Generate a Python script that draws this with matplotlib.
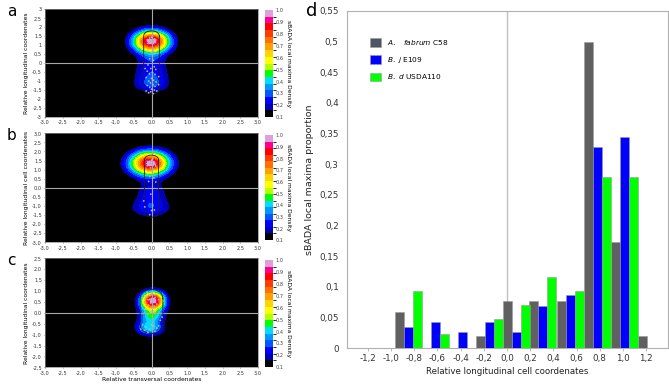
import numpy as np
import matplotlib
matplotlib.use('Agg')
import matplotlib.pyplot as plt
from matplotlib.colors import ListedColormap, BoundaryNorm
from matplotlib.ticker import FuncFormatter, FixedLocator
import matplotlib.cm as cm
from matplotlib.patches import Patch

# ---------------- bar chart (panel d) data ----------------
bin_centers = [-0.85, -0.62, -0.38, -0.15, 0.08, 0.31, 0.55, 0.78, 1.01, 1.25]
fabrum = [0.058, 0.0, 0.0, 0.019, 0.077, 0.077, 0.077, 0.500, 0.173, 0.019]
japonicum = [0.034, 0.043, 0.026, 0.043, 0.026, 0.069, 0.086, 0.328, 0.345, 0.0]
diazo = [0.093, 0.023, 0.0, 0.047, 0.070, 0.116, 0.093, 0.279, 0.279, 0.0]
bar_xticks = [-1.2, -1.0, -0.8, -0.6, -0.4, -0.2, 0.0, 0.2, 0.4, 0.6, 0.8, 1.0, 1.2]
bar_yticks = [0, 0.05, 0.1, 0.15, 0.2, 0.25, 0.3, 0.35, 0.4, 0.45, 0.5, 0.55]
legend_labels = [r'$\mathit{A.\ \ \ fabrum}$ C58', r'$\mathit{B.\ j}$ E109', r'$\mathit{B.\ d}$ USDA110']

# ---------------- density panels (a, b, c) ----------------
# gaussian blobs describing the density shapes: (cx, cy, sx, sy, weight)
comps_a = [(0.0, 1.25, 0.15, 0.16, 0.12), (0.0, 1.2, 0.40, 0.48, 0.88),
           (0.0, 0.2, 0.30, 0.30, 0.10),
           (0.0, -0.4, 0.42, 0.42, 0.22), (0.0, -1.2, 0.42, 0.38, 0.25)]
comps_b = [(0.0, 1.35, 0.15, 0.16, 0.15), (-0.05, 1.35, 0.44, 0.52, 0.85),
           (0.0, -0.2, 0.34, 0.40, 0.20), (-0.02, -1.1, 0.50, 0.45, 0.25)]
comps_c = [(0.05, 0.6, 0.20, 0.25, 0.50), (0.02, 0.45, 0.30, 0.40, 0.50),
           (0.0, -0.15, 0.25, 0.20, 0.22), (-0.05, -0.68, 0.30, 0.28, 0.40)]

pts_a_x = [-0.05, 0.05, -0.10, 0.08, -0.02, 0.12, -0.12, 0.02, -0.06, 0.10, 0.20, -0.15, 0.00, 0.06,
           -0.08, 0.13, -0.03, 0.04, -0.12, 0.10, -0.05, 0.00, -0.15, 0.08, 0.15, -0.02, 0.05, -0.08,
           0.20, -0.18, 0.00, -0.08, 0.08, 0.05, -0.05, 0.10, -0.10, 0.00, 0.12, -0.12, 0.00, 0.10,
           -0.10, 0.05]
pts_a_y = [0.25, 0.15, -0.10, -0.20, -0.30, -0.35, -0.45, -0.50, -0.60, -0.62, -0.75, -0.80, -0.85,
           -0.95, -1.00, -1.05, -1.10, -1.20, -1.25, -1.30, -1.35, -1.45, -1.55, -1.50, -1.55, -1.60,
           -1.70, -1.65, -1.20, -0.30, 1.30, 1.25, 1.35, 1.20, 1.40, 1.15, 1.10, 1.45, 1.30, 1.30,
           0.60, 0.55, 0.65, 0.70]
pts_b_x = [0.00, -0.08, 0.08, 0.05, -0.05, 0.10, -0.10, 0.00, 0.12, -0.12, 0.03, -0.03,
           -0.05, 0.07, -0.08, 0.12, -0.02, -0.22, -0.19, 0.00, 0.08, -0.05]
pts_b_y = [1.35, 1.30, 1.40, 1.25, 1.45, 1.30, 1.38, 1.52, 1.20, 1.22, 1.60, 1.10,
           0.62, 0.55, 0.35, 0.32, -0.35, -0.72, -1.05, -1.25, -1.22, -1.48]
pts_c_x = [0.00, -0.10, 0.10, 0.05, -0.05, 0.15, -0.15, 0.00, 0.20, -0.20, 0.08, -0.08, 0.12,
           -0.12, 0.02, -0.02, 0.18, -0.18, 0.25, -0.25, 0.00, 0.10, -0.10, 0.05, -0.05,
           -0.15, -0.05, 0.05, 0.15, -0.20, 0.10, 0.00, -0.10, 0.20, -0.25, 0.25, 0.30, -0.30]
pts_c_y = [0.65, 0.60, 0.70, 0.50, 0.80, 0.40, 0.75, 0.90, 0.60, 0.50, 0.30, 0.35, 0.85, 0.95,
           0.20, 0.45, 0.20, 0.15, 0.45, 0.70, 0.05, 0.00, -0.05, 0.55, 0.62,
           -0.65, -0.75, -0.60, -0.70, -0.80, -0.85, -0.55, -0.90, -0.60, -0.55, -0.35, -0.20, -0.75]

cell_a = (0.22, -1.72, 1.80)   # half width, bottom, top
cell_b = (0.20, -1.62, 1.80)
cell_c = (0.32, -0.95, 1.08)

levels = list(np.round(np.linspace(0.1, 1.0, 17), 4))
dens_colors = ['#000000', '#0000b4', '#0000ff', '#0058ff', '#0098ff', '#00dcff', '#00ff00',
               '#b4ff00', '#ffff00', '#ffd400', '#ffa000', '#ff7000', '#ff3c00', '#ff0000',
               '#ff0090', '#dca0dc']

cmap = ListedColormap(dens_colors)
norm = BoundaryNorm(levels, cmap.N)

W, H = 669, 385
fig = plt.figure(figsize=(W / 100, H / 100), dpi=100)


def fr(x0, y0, x1, y1):
    return [x0 / W, 1 - y1 / H, (x1 - x0) / W, (y1 - y0) / H]


comma1 = FuncFormatter(lambda v, p: f"{v:.1f}".replace('.', ','))
commag = FuncFormatter(lambda v, p: (f"{v:g}" if abs(v) > 1e-9 else "0").replace('.', ','))


def stadium(hw, y0, y1):
    r = hw
    t1 = np.linspace(0, np.pi, 30)
    t2 = np.linspace(np.pi, 2 * np.pi, 30)
    xs = np.concatenate([r * np.cos(t1), r * np.cos(t2), [r]])
    ys = np.concatenate([y1 - r * 1.3 + r * 1.3 * np.sin(t1), y0 + r * 1.3 + r * 1.3 * np.sin(t2),
                         [y1 - r * 1.3]])
    return xs, ys


panels = [
    dict(rect=(45, 9.3, 258, 117), ylim=(-3, 3), comps=comps_a, px=pts_a_x, py=pts_a_y,
         cell=cell_a, yfmt=commag, ylabel='Relative longitudinal coordenates', letter='a',
         cb=(265, 10, 273, 117)),
    dict(rect=(45, 133.3, 258, 242.3), ylim=(-3, 3), comps=comps_b, px=pts_b_x, py=pts_b_y,
         cell=cell_b, yfmt=comma1, ylabel='Relative longitudinal cell coordenates', letter='b',
         cb=(265, 135, 273, 240)),
    dict(rect=(45, 258.3, 258, 367.3), ylim=(-2.5, 2.5), comps=comps_c, px=pts_c_x, py=pts_c_y,
         cell=cell_c, yfmt=comma1, ylabel='Relative longitudinal coordenates', letter='c',
         cb=(265, 260, 273, 367)),
]

gx = np.linspace(-3, 3, 400)
for i, P in enumerate(panels):
    ax = fig.add_axes(fr(*P['rect']))
    ax.set_facecolor('black')
    gy = np.linspace(P['ylim'][0], P['ylim'][1], 400)
    X, Y = np.meshgrid(gx, gy)
    Z = np.zeros_like(X)
    for cx, cy, sx, sy, w in P['comps']:
        Z += w * np.exp(-0.5 * (((X - cx) / sx) ** 2 + ((Y - cy) / sy) ** 2))
    Z = Z / Z.max()
    ax.contourf(X, Y, Z, levels=levels + [1.01], colors=dens_colors + ['#dca0dc'])
    ax.axhline(0, color='#a8a8a8', lw=0.8)
    ax.axvline(0, color='#a8a8a8', lw=0.8)
    hw, y0, y1 = P['cell']
    cx_, cy_ = stadium(hw, y0, y1)
    ax.plot(cx_, cy_, color='#202020', lw=0.6)
    ax.scatter(P['px'], P['py'], s=1.6, color='#b8b8b8', edgecolors='none', zorder=5)
    ax.set_xlim(-3, 3)
    ax.set_ylim(*P['ylim'])
    ax.xaxis.set_major_locator(FixedLocator(np.arange(-3, 3.01, 0.5)))
    ax.yaxis.set_major_locator(FixedLocator(np.arange(P['ylim'][0], P['ylim'][1] + 0.01, 0.5)))
    ax.xaxis.set_major_formatter(comma1)
    ax.yaxis.set_major_formatter(P['yfmt'])
    ax.tick_params(labelsize=3.6, length=1, width=0.4, pad=1.2, colors='#333333')
    for s in ax.spines.values():
        s.set_color('#888888')
        s.set_linewidth(0.5)
    ax.set_ylabel(P['ylabel'], fontsize=4.3, labelpad=2)
    if i == 2:
        ax.set_xlabel('Relative transversal coordenates', fontsize=4.3, labelpad=1)
    fig.text(7 / W, 1 - (P['rect'][1] + 2) / H, P['letter'], fontsize=11, va='center', ha='left')

    cax = fig.add_axes(fr(*P['cb']))
    sm = cm.ScalarMappable(norm=norm, cmap=cmap)
    cbar = fig.colorbar(sm, cax=cax, ticks=[0.1, 0.2, 0.3, 0.4, 0.5, 0.6, 0.7, 0.8, 0.9, 1.0])
    cbar.ax.yaxis.set_major_formatter(comma1)
    cbar.ax.tick_params(labelsize=3.6, length=0, pad=2, colors='#444444')
    cbar.outline.set_visible(False)
    cbar.set_label('sBADA local maxima Density', rotation=270, fontsize=4.3, labelpad=5)

# ---------------- panel d ----------------
axd = fig.add_axes(fr(347, 11, 668, 348))
bw = 0.0776
xc = np.array(bin_centers)
series = [fabrum, japonicum, diazo]
cols = ['#606060', '#0000ff', '#00ff00']
for k, (vals, col) in enumerate(zip(series, cols)):
    axd.bar(xc + (k - 1) * bw, vals, width=bw, color=col, edgecolor='#9a9a9a', linewidth=0.4,
            zorder=3)
axd.axvline(0, color='#c0c0c0', lw=1.0, zorder=1)
axd.set_xlim(-1.379, 1.388)
axd.set_ylim(0, 0.55)
axd.xaxis.set_major_locator(FixedLocator(bar_xticks))
axd.yaxis.set_major_locator(FixedLocator(bar_yticks))
axd.xaxis.set_major_formatter(comma1)
axd.yaxis.set_major_formatter(commag)
axd.tick_params(axis='x', labelsize=6.3, length=2.5, width=0.5, color='#a0a0a0', pad=2,
                labelcolor='#333333')
axd.tick_params(axis='y', labelsize=6.3, length=0, pad=6, labelcolor='#333333')
for s in axd.spines.values():
    s.set_color('#b0b0b0')
    s.set_linewidth(0.8)
axd.set_xlabel('Relative longitudinal cell coordenates', fontsize=6.2, labelpad=3, color='#222222')
axd.set_ylabel('sBADA local maxima proportion', fontsize=6.8, labelpad=4, color='#222222')
handles = [Patch(facecolor=c, edgecolor='#9a9a9a', linewidth=0.4)
           for c in ['#4d5565', '#0000ff', '#00ff00']]
axd.legend(handles, legend_labels, loc='upper left', bbox_to_anchor=((372 - 347) / 321 - 0.005,
           1 - (38 - 11) / 337), frameon=False, fontsize=5.3, handlelength=1.5, handleheight=1.4,
           labelspacing=1.05, handletextpad=0.7, borderaxespad=0, borderpad=0)
fig.text(312 / W, 1 - 11 / H, 'd', fontsize=13, va='center', ha='center')

fig.savefig('out.png', dpi=100)
